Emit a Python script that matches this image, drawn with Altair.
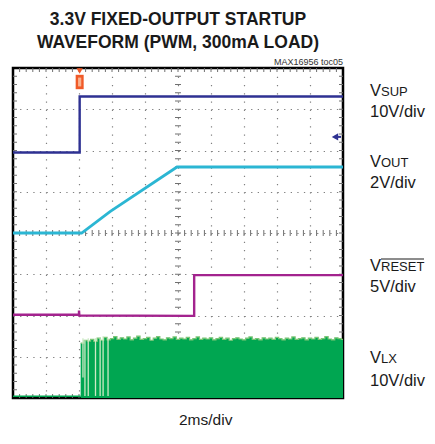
import altair as alt
import pandas as pd

# ---------------- data ----------------
TITLE = ["3.3V FIXED-OUTPUT STARTUP", "WAVEFORM (PWM, 300mA LOAD)"]
NOTE = "MAX16956 toc05"
XLABEL = "2ms/div"

# positions in scope divisions: x 0..10 (2ms/div), y 0..8
vsup_x = [0.0, 2.02, 2.02, 10.0]
vsup_y = [5.95, 5.95, 7.31, 7.31]

vout_x = [0.0, 2.08, 2.94, 4.97, 10.0]
vout_y = [4.0, 4.0, 4.52, 5.6, 5.6]

vreset_x = [0.0, 2.0, 2.0, 2.01, 5.49, 5.49, 10.0]
vreset_y = [2.02, 2.02, 2.12, 2.0, 1.99, 2.98, 2.98]

vlx_base_x = [0.0, 2.05]
vlx_base_y = [0.04, 0.04]

vlx_x = [2.05, 2.1, 2.2, 2.3, 2.4, 2.5, 2.6, 2.7, 2.8, 2.9,
         3.0, 3.1, 3.2, 3.3, 3.4, 3.5, 3.6, 3.7, 3.8, 3.9,
         4.0, 4.1, 4.2, 4.3, 4.4, 4.5, 4.6, 4.7, 4.8, 4.9,
         5.0, 5.1, 5.2, 5.3, 5.4, 5.5, 5.6, 5.7, 5.8, 5.9,
         6.0, 6.1, 6.2, 6.3, 6.4, 6.5, 6.6, 6.7, 6.8, 6.9,
         7.0, 7.1, 7.2, 7.3, 7.4, 7.5, 7.6, 7.7, 7.8, 7.9,
         8.0, 8.1, 8.2, 8.3, 8.4, 8.5, 8.6, 8.7, 8.8, 8.9,
         9.0, 9.1, 9.2, 9.3, 9.4, 9.5, 9.6, 9.7, 9.8, 9.9, 10.0]
vlx_top = [1.33, 1.33, 1.40, 1.38, 1.42, 1.37, 1.45, 1.40, 1.47, 1.41,
           1.44, 1.49, 1.42, 1.46, 1.43, 1.48, 1.41, 1.45, 1.50, 1.42,
           1.44, 1.47, 1.40, 1.45, 1.49, 1.43, 1.41, 1.46, 1.44, 1.48,
           1.42, 1.45, 1.43, 1.47, 1.41, 1.44, 1.48, 1.42, 1.45, 1.43,
           1.46, 1.41, 1.44, 1.47, 1.42, 1.45, 1.40, 1.44, 1.46, 1.43,
           1.41, 1.45, 1.48, 1.42, 1.44, 1.41, 1.46, 1.43, 1.45, 1.42,
           1.47, 1.44, 1.41, 1.45, 1.43, 1.48, 1.42, 1.44, 1.46, 1.41,
           1.45, 1.43, 1.47, 1.42, 1.44, 1.49, 1.43, 1.41, 1.46, 1.44, 1.42]

# light gaps in the first switching bursts
gap_x = [2.12, 2.18, 2.28, 2.5, 2.64, 2.73, 2.88]
gap_lo = [0.5, 0.05, 0.05, 0.05, 0.05, 0.05, 0.05]
gap_hi = [1.45, 1.4, 1.45, 1.45, 1.45, 1.5, 1.45]

trig_x = [2.02]
level_y = [6.33]

# ---------------- helpers ----------------
XS = alt.Scale(domain=[0, 10], nice=False, zero=False)
YS = alt.Scale(domain=[0, 8], nice=False, zero=False)
XA = alt.Axis(values=[1, 2, 3, 4, 5, 6, 7, 8, 9], grid=True, gridDash=[1.3, 6.95],
              gridColor="#808080", gridWidth=1.2, labels=False, ticks=False,
              domain=False, title=None)
YA = alt.Axis(values=[1, 2, 3, 4, 5, 6, 7], grid=True, gridDash=[1.3, 5.3],
              gridColor="#808080", gridWidth=1.2, labels=False, ticks=False,
              domain=False, title=None)


def X(f="x"):
    return alt.X(f"{f}:Q", scale=XS, axis=XA)


def Y(f="y"):
    return alt.Y(f"{f}:Q", scale=YS, axis=YA)


def trace(xs, ys, color, width=2.4):
    df = pd.DataFrame({"x": xs, "y": ys, "o": list(range(len(xs)))})
    return alt.Chart(df).mark_line(color=color, strokeWidth=width).encode(
        x=X(), y=Y(), order="o:Q")


one = pd.DataFrame({"a": [0]})


def label(text, x, y, size=16.5, weight="normal", align="left",
          font="Liberation Sans", color="#1a1a1a"):
    return alt.Chart(one).mark_text(
        align=align, baseline="alphabetic", fontSize=size, fontWeight=weight,
        font=font, color=color).encode(
        x=alt.value(x), y=alt.value(y), text=alt.value(text))


W, H = 330, 330
step_x = [i * 0.2 for i in range(1, 50)]
step_y = [i * 0.2 for i in range(1, 40)]
tx = pd.DataFrame({"x": step_x})
ty = pd.DataFrame({"y": step_y})
TICK = "#707070"

ticks = [
    alt.Chart(tx).mark_rule(color=TICK, strokeWidth=1).encode(x=X(), y=alt.value(H / 2 - 3), y2=alt.value(H / 2 + 3)),
    alt.Chart(ty).mark_rule(color=TICK, strokeWidth=1).encode(y=Y(), x=alt.value(W / 2 - 3), x2=alt.value(W / 2 + 3)),
    alt.Chart(tx).mark_rule(color=TICK, strokeWidth=1).encode(x=X(), y=alt.value(0), y2=alt.value(4)),
    alt.Chart(tx).mark_rule(color=TICK, strokeWidth=1).encode(x=X(), y=alt.value(H - 4), y2=alt.value(H)),
    alt.Chart(ty).mark_rule(color=TICK, strokeWidth=1).encode(y=Y(), x=alt.value(0), x2=alt.value(4)),
    alt.Chart(ty).mark_rule(color=TICK, strokeWidth=1).encode(y=Y(), x=alt.value(W - 4), x2=alt.value(W)),
]

lx_df = pd.DataFrame({"x": vlx_x, "y": vlx_top, "y0": [0.0] * len(vlx_x)})
vlx_area = alt.Chart(lx_df).mark_area(color="#00A651", interpolate="step", opacity=1).encode(
    x=X(), y=Y(), y2="y0:Q")
vlx_edge = alt.Chart(lx_df).mark_line(color="#7CC576", interpolate="step", strokeWidth=1.2).encode(
    x=X(), y=Y())
gaps = alt.Chart(pd.DataFrame({"x": gap_x, "lo": gap_lo, "hi": gap_hi})).mark_rule(
    color="#cdeac5", strokeWidth=1.3).encode(x=X(), y=Y("lo"), y2="hi:Q")

trig_df = pd.DataFrame({"x": trig_x})
trig_rect = alt.Chart(trig_df).mark_point(
    shape="M-1,-1.8H1V1.8H-1Z", filled=True, color="#F05A28", size=64, opacity=1).encode(
    x=X(), y=alt.value(14))
trig_inner = alt.Chart(trig_df).mark_point(
    shape="M-0.4,-1.1H0.4V1.1H-0.4Z", filled=True, color="#F9B28F", size=64, opacity=1).encode(
    x=X(), y=alt.value(14))
trig_tri = alt.Chart(trig_df).mark_point(
    shape="triangle-down", filled=True, color="#F05A28", size=40, opacity=1).encode(
    x=X(), y=alt.value(3))

lvl_df = pd.DataFrame({"y": level_y})
lvl_tri = alt.Chart(lvl_df).mark_point(
    shape="triangle-left", filled=True, color="#2E3192", size=55, opacity=1).encode(
    y=Y(), x=alt.value(W - 8))
lvl_line = alt.Chart(lvl_df).mark_rule(color="#2E3192", strokeWidth=2).encode(
    y=Y(), x=alt.value(W - 8), x2=alt.value(W - 2))

overline = alt.Chart(one).mark_rule(color="#1a1a1a", strokeWidth=1).encode(
    x=alt.value(368), x2=alt.value(411), y=alt.value(191))

layers = ticks + [
    trace(vlx_base_x, vlx_base_y, "#00A651", 1.5),
    vlx_area, vlx_edge, gaps,
    trace(vreset_x, vreset_y, "#A3238E"),
    trace(vout_x, vout_y, "#2BB6D3", 2.8),
    trace(vsup_x, vsup_y, "#2E3192"),
    trig_tri, trig_rect, trig_inner, lvl_line, lvl_tri,
    label(TITLE[0], 165, -43, 17.5, "bold", "center"),
    label(TITLE[1], 165, -20, 17.5, "bold", "center"),
    label(NOTE, 330, -3, 9, align="right", color="#333333"),
    label(XLABEL, 166, 357, 15.5),
    label("V", 357, 28), label("SUP", 368, 28, 13), label("10V/div", 357, 49),
    label("V", 357, 99), label("OUT", 368, 99, 13), label("2V/div", 357, 120),
    label("V", 357, 203), label("RESET", 368, 203, 13), overline, label("5V/div", 357, 224),
    label("V", 357, 295), label("LX", 368, 295, 13), label("10V/div", 357, 318),
]

chart = alt.layer(*layers).properties(
    width=W, height=H,
    autosize=alt.AutoSizeParams(type="none"),
    padding={"left": 5, "top": 60, "right": 84, "bottom": 33},
    background="white",
).configure_view(stroke="black", strokeWidth=2.5)

chart.save("out.html", embed_options={"renderer": "svg", "actions": False})
